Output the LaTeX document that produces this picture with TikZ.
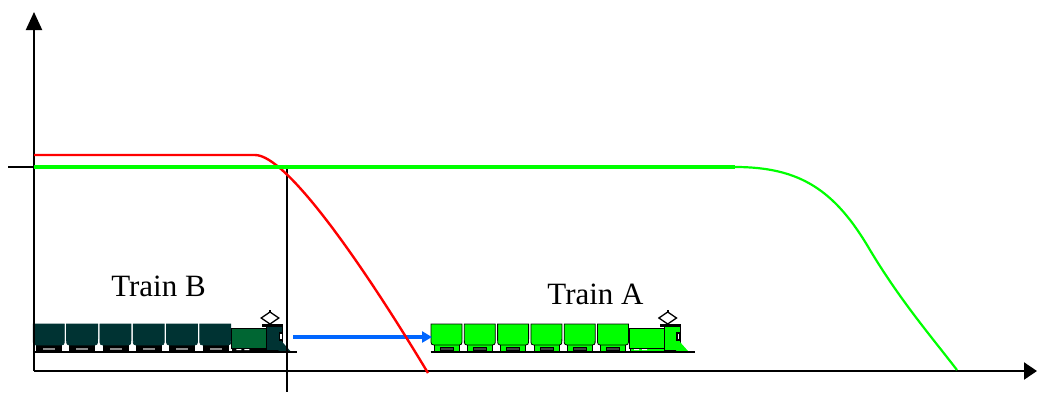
\documentclass[tikz,border=0pt]{standalone}
\usepackage{fontspec}
\setmainfont{Liberation Serif}
\usetikzlibrary{arrows.meta}

\definecolor{curveRed}{RGB}{255,0,0}
\definecolor{curveGreen}{RGB}{0,255,0}
\definecolor{moveBlue}{RGB}{0,102,255}
\definecolor{tealDark}{RGB}{0,51,51}
\definecolor{locoGreen}{RGB}{0,102,51}

\tikzset{
  axisline/.style={line width=2pt, black},
  guide/.style={line width=2.2pt, black},
  redcurve/.style={line width=2.4pt, curveRed},
  greenflat/.style={line width=4pt, curveGreen},
  greencurve/.style={line width=2.2pt, curveGreen},
  movearrow/.style={line width=3.5pt, moveBlue, -{Triangle[length=10pt,width=11pt]}},
  label/.style={font=\fontsize{31}{36}\selectfont, inner sep=0pt},
  % parts of a train; colours come from wagonfill, wagonline, locofill, cabfill, bogiefill, wheelfill
  wagonbody/.style={fill=wagonfill, draw=wagonline, line width=0.8pt},
  bogie/.style={fill=bogiefill, draw=black, line width=0.6pt},
  wheel/.style={fill=wheelfill, draw=black, line width=0.6pt},
  train/.pic={
    % wagons with rounded bottoms and their bogies
    \foreach \k in {0,...,5}{
      \pgfmathsetmacro{\xa}{33.3*\k}
      \path[bogie] ({\xa+3},20) rectangle ({\xa+28},27);
      \path[wheel] ({\xa+9},23) rectangle ({\xa+22},26);
      \path[wagonbody] (\xa,0) -- ({\xa+31},0) -- ({\xa+31},15)
        .. controls ({\xa+31},21) .. ({\xa+25},21) -- ({\xa+6},21)
        .. controls (\xa,21) .. (\xa,15) -- cycle;
    }
    % locomotive: pantograph, body, cab, window, cow-catcher, wheels
    \draw[line width=1.3pt, fill=white] (236.7,-12) -- (245.5,-6) -- (236.7,0) -- (227.9,-6) -- cycle;
    \fill[black] (235.5,-14) rectangle (237.9,-11);
    \fill[bogiefill, draw=black, line width=0.6pt] (199,22) rectangle (249,27);
    \fill[white] (203,24) rectangle (208,26) (211,24) rectangle (216,26) (236,24) rectangle (241,26);
    \path[fill=locofill, draw=black, line width=0.8pt] (198.5,4) rectangle (233,24);
    \path[fill=cabfill, draw=black, line width=0.8pt] (233,1) rectangle (249,26);
    \fill[black] (229,0) rectangle (250,2.5);
    \draw[line width=1.2pt, fill=white] (246,9) rectangle (249,16);
    \fill[cabfill] (245,27) -- (249,18) -- (257,27) -- cycle;
    % rail
    \draw[line width=2pt] (-0.5,28) -- (263.5,28);
  }
}

\begin{document}
\begin{tikzpicture}[x=1pt,y=-1pt]
\useasboundingbox (0,0) rectangle (1037,392);

% key points of the plot
\coordinate (origin) at (34,371);
\coordinate (yTop)   at (34,12);
\coordinate (xEnd)   at (1037,371);
\coordinate (tickL)  at (8,167);
\coordinate (tickR)  at (34,167);
\coordinate (meet)   at (287,167);
\coordinate (meetFoot) at (287,392);
\coordinate (redStart) at (34,155);
\coordinate (redBend)  at (255,155);
\coordinate (redEnd)   at (428,373);
\coordinate (greenBend) at (735,167);
\coordinate (greenMid)  at (870,250);
\coordinate (greenEnd)  at (957,370);
\coordinate (moveStart) at (293,337);
\coordinate (moveEnd)   at (432,337);

% train B (dark) and train A (bright green)
\begin{scope}
  \colorlet{wagonfill}{tealDark}\colorlet{wagonline}{tealDark}
  \colorlet{locofill}{locoGreen}\colorlet{cabfill}{tealDark}
  \colorlet{bogiefill}{black}\colorlet{wheelfill}{black!45}
  \pic (trainB) at (33.3,324) {train};
\end{scope}
\begin{scope}
  \colorlet{wagonfill}{curveGreen}\colorlet{wagonline}{black}
  \colorlet{locofill}{curveGreen}\colorlet{cabfill}{curveGreen}
  \colorlet{bogiefill}{curveGreen}\colorlet{wheelfill}{black!75}
  \pic (trainA) at (431,324) {train};
\end{scope}

\node[label, anchor=base] (labelB) at (158.5,296) {Train B};
\node[label, anchor=base] (labelA) at (595.5,304) {Train A};

% movement of train B
\draw[movearrow] (moveStart) -- (moveEnd);

% axes and level tick
\draw[axisline, -{Triangle[length=18pt,width=16pt]}] (origin) -- (yTop);
\draw[axisline, line width=2.2pt, -{Triangle[length=13pt,width=17pt]}] (origin) -- (xEnd);
\draw[axisline] (tickL) -- (tickR);
\draw[guide] (meet) -- (meetFoot);

% braking curve of train B
\draw[redcurve] (redStart) -- (redBend)
  .. controls (286,155) and (360,260) .. (redEnd);

% braking curve of train A
\draw[greenflat] (tickR) -- (greenBend);
\draw[greencurve] (greenBend) .. controls (800,167) and (835,190) .. (greenMid)
  .. controls (900,300) and (930,335) .. (greenEnd);
\end{tikzpicture}
\end{document}
